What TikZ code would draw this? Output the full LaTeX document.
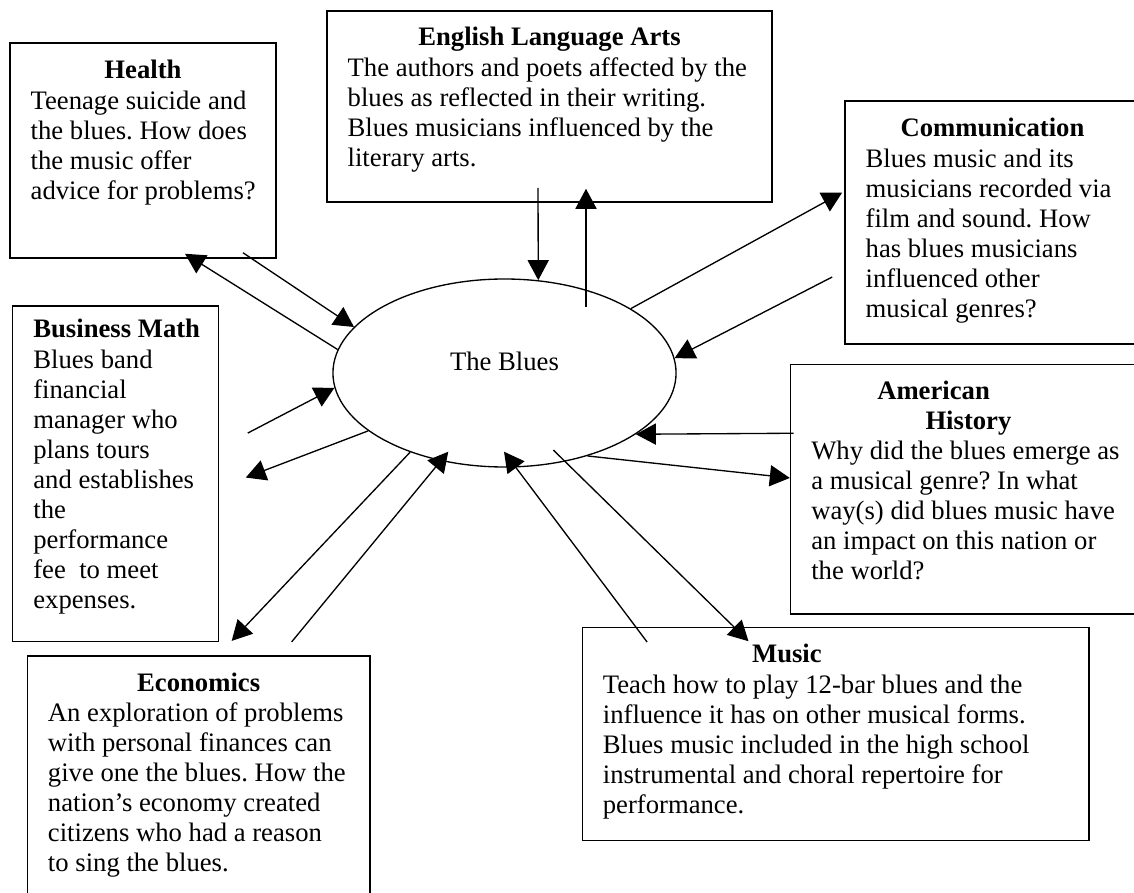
\documentclass[tikz,border=0pt]{standalone}
\usepackage{fontspec}
\setmainfont{Liberation Serif}
\usetikzlibrary{arrows.meta, shapes.geometric, fit, calc}

\newcommand{\bodyfont}{\fontsize{12}{13.5}\selectfont\frenchspacing}

\tikzset{
  subject/.style={draw, line width=0.7pt, inner sep=0pt},
  heading/.style={font=\bodyfont\bfseries, inner sep=0pt},
  blurb/.style={align=left, inner sep=0pt, anchor=north west},
  link/.style={-{Triangle[length=9pt, width=9.5pt]}, line width=0.6pt},
}

\begin{document}
\begin{tikzpicture}[x=0.45pt, y=0.45pt, font=\bodyfont]
  \useasboundingbox (0,0) rectangle (1134,892);

  \node[ellipse, draw, line width=0.6pt, minimum width=154.4pt, minimum height=84.6pt,
        inner sep=0pt, text depth=10.3pt] (blues) at (504.5,519) {The Blues};

  \node[subject, fit={(10,634) (276,849)}] (health) {};
  \node[heading, anchor=base] (healthhead) at ($(health.north)+(0,-36)$) {Health};
  \node[blurb] (healthtext) at ($(health.north west)+(21,-48)$)
    {Teenage suicide and\\the blues. How does\\the music offer\\advice for problems?};

  \node[subject, fit={(327,690) (772,881)}] (ela) {};
  \node[heading, anchor=base] (elahead) at ($(ela.north)+(0,-35)$) {English Language Arts};
  \node[blurb] (elatext) at ($(ela.north west)+(21,-47)$)
    {The authors and poets affected by the\\blues as reflected in their writing.\\Blues musicians influenced by the\\literary arts.};

  \node[subject, fit={(845,548) (1140,791)}] (comm) {};
  \node[heading, anchor=base] (commhead) at ($(comm.north)+(0,-36)$) {Communication};
  \node[blurb] (commtext) at ($(comm.north west)+(21,-48)$)
    {Blues music and its\\musicians recorded via\\film and sound. How\\has blues musicians\\influenced other\\musical genres?};

  \node[subject, fit={(12.7,250.3) (218.3,586)}] (bmath) {};
  \node[heading, anchor=base west] (bmathhead) at ($(bmath.north west)+(21,-32)$) {Business Math};
  \node[blurb] (bmathtext) at ($(bmath.north west)+(21,-44)$)
    {Blues band\\financial\\manager who\\plans tours\\and establishes\\the\\performance\\fee~ to meet\\expenses.};

  \node[subject, fit={(790.6,278) (1140,527.7)}] (amhist) {};
  \node[heading, align=left, anchor=north west] (amhisthead) at ($(amhist.north west)+(87,-17)$)
    {American\\\hspace*{21.7pt}History};
  \node[blurb] (amhisttext) at ($(amhist.north west)+(21,-77.5)$)
    {Why did the blues emerge as\\a musical genre? In what\\way(s) did blues music have\\an impact on this nation or\\the world?};

  \node[subject, fit={(27.3,-10) (370,236)}] (econ) {};
  \node[heading, anchor=base] (econhead) at ($(econ.north)+(0,-36)$) {Economics};
  \node[blurb] (econtext) at ($(econ.north west)+(21,-47.5)$)
    {An exploration of problems\\with personal finances can\\give one the blues. How the\\nation's economy created\\citizens who had a reason\\to sing the blues.};

  \node[subject, fit={(582.7,51.3) (1088.9,264.7)}] (music) {};
  \node[heading, anchor=base] (musichead) at ($(music.north west)+(205,-35.5)$) {Music};
  \node[blurb] (musictext) at ($(music.north west)+(20.5,-47.7)$)
    {Teach how to play 12-bar blues and the\\influence it has on other musical forms.\\Blues music included in the high school\\instrumental and choral repertoire for\\performance.};

  \draw[link] (blues.172) -- ($(health.south)+(42,5)$);
  \draw[link] ($(health.south)+(100,6)$) -- (blues.163);
  \draw[link] ($(ela.south)+(-11.5,15)$) -- (blues.70);
  \draw[link] ($(blues.center)+(81.5,66)$) -- ($(ela.south)+(36.5,14)$);
  \draw[link] (blues.27) -- ($(comm.west)+(-2,30)$);
  \draw[link] ($(comm.west)+(-12,-54.5)$) -- (blues.5);
  \draw[link] ($(bmath.east)+(28.7,40.8)$) -- (blues.185);
  \draw[link] (blues.203) -- ($(bmath.east)+(26.7,-3.7)$);
  \draw[link] ($(amhist.west)+(3.7,55.9)$) -- (blues.-25);
  \draw[link] (blues.-45) -- ($(amhist.west)+(0,11.2)$);
  \draw[link] ($(blues.center)+(48.8,-77)$) -- ($(music.north)+(-87.3,-14.7)$);
  \draw[link] ($(music.north)+(-188.7,-15.5)$) -- ($(blues.center)+(-0.5,-78.7)$);
  \draw[link] (blues.220) -- ($(econ.north)+(33,14.3)$);
  \draw[link] ($(econ.north)+(93,13.3)$) -- ($(blues.center)+(-56.2,-78.7)$);
\end{tikzpicture}
\end{document}
